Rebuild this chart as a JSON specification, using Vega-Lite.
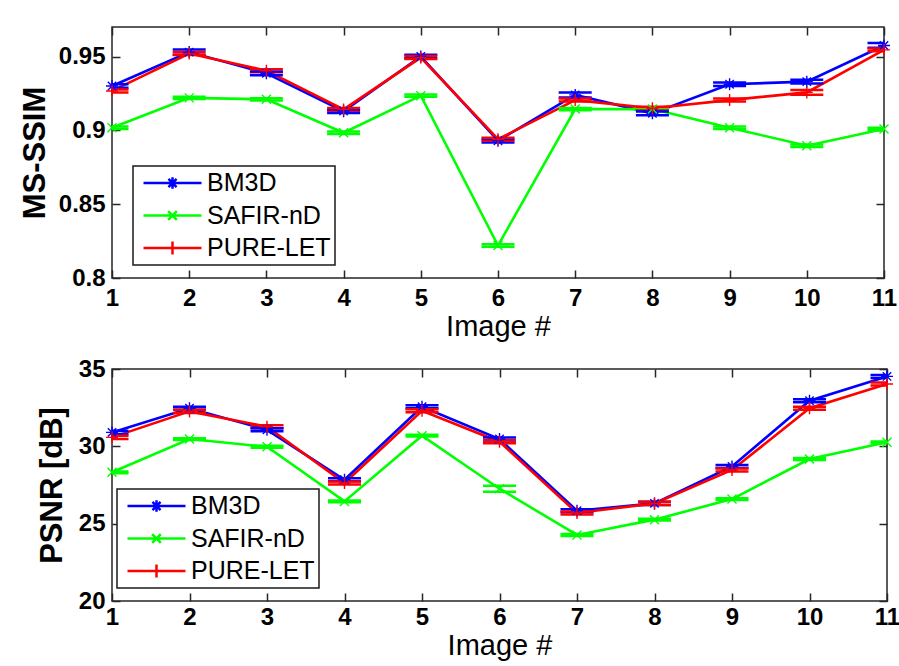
{
  "$schema": "https://vega.github.io/schema/vega-lite/v6.json",
  "background": "white",
  "padding": {"left": 18, "top": 25, "right": 0, "bottom": 0},
  "datasets": {
    "msssim": [
      {"img": 1, "method": "BM3D", "v": 0.930, "lo": 0.9288, "hi": 0.9312},
      {"img": 2, "method": "BM3D", "v": 0.953, "lo": 0.9512, "hi": 0.9548},
      {"img": 3, "method": "BM3D", "v": 0.9386, "lo": 0.9374, "hi": 0.9398},
      {"img": 4, "method": "BM3D", "v": 0.913, "lo": 0.9118, "hi": 0.9142},
      {"img": 5, "method": "BM3D", "v": 0.950, "lo": 0.9488, "hi": 0.9512},
      {"img": 6, "method": "BM3D", "v": 0.893, "lo": 0.8918, "hi": 0.8942},
      {"img": 7, "method": "BM3D", "v": 0.924, "lo": 0.9223, "hi": 0.9257},
      {"img": 8, "method": "BM3D", "v": 0.9115, "lo": 0.9103, "hi": 0.9127},
      {"img": 9, "method": "BM3D", "v": 0.9312, "lo": 0.9300, "hi": 0.9324},
      {"img": 10, "method": "BM3D", "v": 0.933, "lo": 0.9318, "hi": 0.9342},
      {"img": 11, "method": "BM3D", "v": 0.9575, "lo": 0.9559, "hi": 0.9591},
      {"img": 1, "method": "SAFIR-nD", "v": 0.9018, "lo": 0.9010, "hi": 0.9026},
      {"img": 2, "method": "SAFIR-nD", "v": 0.922, "lo": 0.9212, "hi": 0.9228},
      {"img": 3, "method": "SAFIR-nD", "v": 0.921, "lo": 0.9202, "hi": 0.9218},
      {"img": 4, "method": "SAFIR-nD", "v": 0.8984, "lo": 0.8976, "hi": 0.8992},
      {"img": 5, "method": "SAFIR-nD", "v": 0.9235, "lo": 0.9227, "hi": 0.9243},
      {"img": 6, "method": "SAFIR-nD", "v": 0.822, "lo": 0.8212, "hi": 0.8228},
      {"img": 7, "method": "SAFIR-nD", "v": 0.9144, "lo": 0.9136, "hi": 0.9152},
      {"img": 8, "method": "SAFIR-nD", "v": 0.9144, "lo": 0.9136, "hi": 0.9152},
      {"img": 9, "method": "SAFIR-nD", "v": 0.9018, "lo": 0.9010, "hi": 0.9026},
      {"img": 10, "method": "SAFIR-nD", "v": 0.8896, "lo": 0.8888, "hi": 0.8904},
      {"img": 11, "method": "SAFIR-nD", "v": 0.9009, "lo": 0.9001, "hi": 0.9017},
      {"img": 1, "method": "PURE-LET", "v": 0.9267, "lo": 0.9257, "hi": 0.9277},
      {"img": 2, "method": "PURE-LET", "v": 0.952, "lo": 0.9510, "hi": 0.9530},
      {"img": 3, "method": "PURE-LET", "v": 0.9404, "lo": 0.9394, "hi": 0.9414},
      {"img": 4, "method": "PURE-LET", "v": 0.9142, "lo": 0.9132, "hi": 0.9152},
      {"img": 5, "method": "PURE-LET", "v": 0.9493, "lo": 0.9483, "hi": 0.9503},
      {"img": 6, "method": "PURE-LET", "v": 0.894, "lo": 0.8930, "hi": 0.8950},
      {"img": 7, "method": "PURE-LET", "v": 0.9205, "lo": 0.9195, "hi": 0.9215},
      {"img": 8, "method": "PURE-LET", "v": 0.915, "lo": 0.9140, "hi": 0.9160},
      {"img": 9, "method": "PURE-LET", "v": 0.9205, "lo": 0.9195, "hi": 0.9215},
      {"img": 10, "method": "PURE-LET", "v": 0.9257, "lo": 0.9241, "hi": 0.9273},
      {"img": 11, "method": "PURE-LET", "v": 0.9545, "lo": 0.9535, "hi": 0.9555}
    ],
    "psnr": [
      {"img": 1, "method": "BM3D", "v": 30.9, "lo": 30.8, "hi": 31.0},
      {"img": 2, "method": "BM3D", "v": 32.46, "lo": 32.36, "hi": 32.56},
      {"img": 3, "method": "BM3D", "v": 31.07, "lo": 30.97, "hi": 31.17},
      {"img": 4, "method": "BM3D", "v": 27.84, "lo": 27.74, "hi": 27.94},
      {"img": 5, "method": "BM3D", "v": 32.56, "lo": 32.46, "hi": 32.66},
      {"img": 6, "method": "BM3D", "v": 30.47, "lo": 30.37, "hi": 30.57},
      {"img": 7, "method": "BM3D", "v": 25.84, "lo": 25.74, "hi": 25.94},
      {"img": 8, "method": "BM3D", "v": 26.31, "lo": 26.21, "hi": 26.41},
      {"img": 9, "method": "BM3D", "v": 28.7, "lo": 28.6, "hi": 28.8},
      {"img": 10, "method": "BM3D", "v": 32.95, "lo": 32.85, "hi": 33.05},
      {"img": 11, "method": "BM3D", "v": 34.52, "lo": 34.42, "hi": 34.62},
      {"img": 1, "method": "SAFIR-nD", "v": 28.32, "lo": 28.26, "hi": 28.38},
      {"img": 2, "method": "SAFIR-nD", "v": 30.47, "lo": 30.41, "hi": 30.53},
      {"img": 3, "method": "SAFIR-nD", "v": 29.97, "lo": 29.91, "hi": 30.03},
      {"img": 4, "method": "SAFIR-nD", "v": 26.44, "lo": 26.38, "hi": 26.50},
      {"img": 5, "method": "SAFIR-nD", "v": 30.69, "lo": 30.63, "hi": 30.75},
      {"img": 6, "method": "SAFIR-nD", "v": 27.26, "lo": 27.07, "hi": 27.45},
      {"img": 7, "method": "SAFIR-nD", "v": 24.27, "lo": 24.21, "hi": 24.33},
      {"img": 8, "method": "SAFIR-nD", "v": 25.26, "lo": 25.20, "hi": 25.32},
      {"img": 9, "method": "SAFIR-nD", "v": 26.59, "lo": 26.53, "hi": 26.65},
      {"img": 10, "method": "SAFIR-nD", "v": 29.18, "lo": 29.12, "hi": 29.24},
      {"img": 11, "method": "SAFIR-nD", "v": 30.26, "lo": 30.20, "hi": 30.32},
      {"img": 1, "method": "PURE-LET", "v": 30.58, "lo": 30.48, "hi": 30.68},
      {"img": 2, "method": "PURE-LET", "v": 32.26, "lo": 32.16, "hi": 32.36},
      {"img": 3, "method": "PURE-LET", "v": 31.27, "lo": 31.17, "hi": 31.37},
      {"img": 4, "method": "PURE-LET", "v": 27.63, "lo": 27.53, "hi": 27.73},
      {"img": 5, "method": "PURE-LET", "v": 32.3, "lo": 32.2, "hi": 32.4},
      {"img": 6, "method": "PURE-LET", "v": 30.3, "lo": 30.2, "hi": 30.4},
      {"img": 7, "method": "PURE-LET", "v": 25.69, "lo": 25.59, "hi": 25.79},
      {"img": 8, "method": "PURE-LET", "v": 26.31, "lo": 26.21, "hi": 26.41},
      {"img": 9, "method": "PURE-LET", "v": 28.47, "lo": 28.37, "hi": 28.57},
      {"img": 10, "method": "PURE-LET", "v": 32.46, "lo": 32.36, "hi": 32.56},
      {"img": 11, "method": "PURE-LET", "v": 34.03, "lo": 33.93, "hi": 34.13}
    ]
  },
  "vconcat": [
    {
      "width": 772,
      "height": 251,
      "data": {"name": "msssim"},
      "layer": [
        {
          "mark": {"type": "line", "strokeWidth": 2.6},
          "encoding": {
            "x": {"field": "img", "type": "quantitative", "scale": {"domain": [1, 11], "nice": false, "zero": false},
              "axis": {"orient": "bottom", "values": [1,2,3,4,5,6,7,8,9,10,11], "format": "d", "title": "Image #", "titleFontWeight": "normal", "titleFontSize": 29, "titlePadding": 2, "labelFontSize": 24, "labelFontWeight": "bold", "labelPadding": 16, "tickSize": -8, "domain": false, "grid": false, "labelFlush": false}},
            "y": {"field": "v", "type": "quantitative", "scale": {"domain": [0.8, 0.97], "nice": false, "zero": false},
              "axis": {"orient": "left", "values": [0.8, 0.85, 0.9, 0.95], "format": "~g", "title": "MS-SSIM", "titleFontSize": 31, "titleFontWeight": "bold", "titlePadding": 7, "labelFontSize": 24, "labelFontWeight": "bold", "labelPadding": 15, "tickSize": -8, "domain": false, "grid": false, "labelFlush": false}},
            "color": {"field": "method", "type": "nominal",
              "scale": {"domain": ["BM3D", "SAFIR-nD", "PURE-LET"], "range": ["#0000ff", "#00ff00", "#ff0000"]},
              "legend": {"title": null, "orient": "none", "legendX": 21, "legendY": 139, "direction": "vertical", "padding": 4, "strokeColor": "#1a1a1a", "fillColor": "#ffffff", "symbolSize": 3364, "clipHeight": 26, "rowPadding": 6.5, "symbolOffset": 5, "labelOffset": 4, "labelFont": "Liberation Sans", "labelFontSize": 25, "labelColor": "#000000", "symbolStrokeWidth": 2.5,
                "encode": {"symbols": {"update": {
                  "shape": {"signal": "datum.value === 'BM3D' ? 'M-1,0H1M0,-0.2V0.2M-0.14,-0.14L0.14,0.14M-0.14,0.14L0.14,-0.14' : datum.value === 'SAFIR-nD' ? 'M-1,0H1M-0.15,-0.15L0.15,0.15M-0.15,0.15L0.15,-0.15' : 'M-1,0H1M0,-0.22V0.22'"},
                  "stroke": {"signal": "datum.value === 'BM3D' ? '#0000ff' : datum.value === 'SAFIR-nD' ? '#00ff00' : '#ff0000'"},
                  "fill": {"value": "transparent"},
                  "opacity": {"value": 1},
                  "strokeWidth": {"value": 2.5},
                  "size": {"value": 3364}
                }}}}}
          }
        },
        {
          "mark": {"type": "tick", "orient": "horizontal", "size": 33, "thickness": 2.5, "clip": true, "opacity": 1},
          "encoding": {
            "x": {"field": "img", "type": "quantitative", "scale": {"domain": [1, 11], "nice": false, "zero": false}, "axis": null},
            "y": {"field": "lo", "type": "quantitative", "scale": {"domain": [0.8, 0.97], "nice": false, "zero": false}, "axis": null},
            "color": {"field": "method", "type": "nominal"}
          }
        },
        {
          "mark": {"type": "tick", "orient": "horizontal", "size": 33, "thickness": 2.5, "clip": true, "opacity": 1},
          "encoding": {
            "x": {"field": "img", "type": "quantitative", "scale": {"domain": [1, 11], "nice": false, "zero": false}, "axis": null},
            "y": {"field": "hi", "type": "quantitative", "scale": {"domain": [0.8, 0.97], "nice": false, "zero": false}, "axis": null},
            "color": {"field": "method", "type": "nominal"}
          }
        },
        {
          "transform": [{"filter": "datum.method === 'BM3D'"}],
          "mark": {"type": "point", "filled": false, "size": 144, "strokeWidth": 1.4, "opacity": 1, "shape": "M-1,0H1M0,-1V1M-0.7,-0.7L0.7,0.7M-0.7,0.7L0.7,-0.7"},
          "encoding": {
            "x": {"field": "img", "type": "quantitative", "scale": {"domain": [1, 11], "nice": false, "zero": false}, "axis": null},
            "y": {"field": "v", "type": "quantitative", "scale": {"domain": [0.8, 0.97], "nice": false, "zero": false}, "axis": null},
            "color": {"field": "method", "type": "nominal"}
          }
        },
        {
          "transform": [{"filter": "datum.method === 'SAFIR-nD'"}],
          "mark": {"type": "point", "filled": false, "size": 144, "strokeWidth": 1.4, "opacity": 1, "shape": "M-0.75,-0.75L0.75,0.75M-0.75,0.75L0.75,-0.75"},
          "encoding": {
            "x": {"field": "img", "type": "quantitative", "scale": {"domain": [1, 11], "nice": false, "zero": false}, "axis": null},
            "y": {"field": "v", "type": "quantitative", "scale": {"domain": [0.8, 0.97], "nice": false, "zero": false}, "axis": null},
            "color": {"field": "method", "type": "nominal"}
          }
        },
        {
          "transform": [{"filter": "datum.method === 'PURE-LET'"}],
          "mark": {"type": "point", "filled": false, "size": 144, "strokeWidth": 1.4, "opacity": 1, "shape": "M-1,0H1M0,-1V1"},
          "encoding": {
            "x": {"field": "img", "type": "quantitative", "scale": {"domain": [1, 11], "nice": false, "zero": false}, "axis": null},
            "y": {"field": "v", "type": "quantitative", "scale": {"domain": [0.8, 0.97], "nice": false, "zero": false}, "axis": null},
            "color": {"field": "method", "type": "nominal"}
          }
        },
        {
          "mark": {"type": "point", "opacity": 0},
          "encoding": {
            "x": {"field": "img", "type": "quantitative", "scale": {"domain": [1, 11], "nice": false, "zero": false},
              "axis": {"orient": "top", "values": [1,2,3,4,5,6,7,8,9,10,11], "labels": false, "title": null, "tickSize": -8, "domain": false, "grid": false}},
            "y": {"field": "v", "type": "quantitative", "scale": {"domain": [0.8, 0.97], "nice": false, "zero": false},
              "axis": {"orient": "right", "values": [0.8, 0.85, 0.9, 0.95], "labels": false, "title": null, "tickSize": -8, "domain": false, "grid": false}}
          }
        }
      ],
      "resolve": {"axis": {"x": "independent", "y": "independent"}}
    },
    {
      "width": 775,
      "height": 232,
      "data": {"name": "psnr"},
      "layer": [
        {
          "mark": {"type": "line", "strokeWidth": 2.6},
          "encoding": {
            "x": {"field": "img", "type": "quantitative", "scale": {"domain": [1, 11], "nice": false, "zero": false},
              "axis": {"orient": "bottom", "values": [1,2,3,4,5,6,7,8,9,10,11], "format": "d", "title": "Image #", "titleFontWeight": "normal", "titleFontSize": 29, "titlePadding": 2, "labelFontSize": 24, "labelFontWeight": "bold", "labelPadding": 12, "tickSize": -8, "domain": false, "grid": false, "labelFlush": false}},
            "y": {"field": "v", "type": "quantitative", "scale": {"domain": [20, 35], "nice": false, "zero": false},
              "axis": {"orient": "left", "values": [20, 25, 30, 35], "format": "d", "title": "PSNR  [dB]", "titleFontSize": 31, "titleFontWeight": "bold", "titlePadding": 10, "labelFontSize": 24, "labelFontWeight": "bold", "labelPadding": 15, "tickSize": -8, "domain": false, "grid": false, "labelFlush": false}},
            "color": {"field": "method", "type": "nominal",
              "scale": {"domain": ["BM3D", "SAFIR-nD", "PURE-LET"], "range": ["#0000ff", "#00ff00", "#ff0000"]},
              "legend": {"title": null, "orient": "none", "legendX": 5, "legendY": 120, "direction": "vertical", "padding": 4, "strokeColor": "#1a1a1a", "fillColor": "#ffffff", "symbolSize": 3364, "clipHeight": 26, "rowPadding": 6.5, "symbolOffset": 5, "labelOffset": 4, "labelFont": "Liberation Sans", "labelFontSize": 25, "labelColor": "#000000", "symbolStrokeWidth": 2.5,
                "encode": {"symbols": {"update": {
                  "shape": {"signal": "datum.value === 'BM3D' ? 'M-1,0H1M0,-0.2V0.2M-0.14,-0.14L0.14,0.14M-0.14,0.14L0.14,-0.14' : datum.value === 'SAFIR-nD' ? 'M-1,0H1M-0.15,-0.15L0.15,0.15M-0.15,0.15L0.15,-0.15' : 'M-1,0H1M0,-0.22V0.22'"},
                  "stroke": {"signal": "datum.value === 'BM3D' ? '#0000ff' : datum.value === 'SAFIR-nD' ? '#00ff00' : '#ff0000'"},
                  "fill": {"value": "transparent"},
                  "opacity": {"value": 1},
                  "strokeWidth": {"value": 2.5},
                  "size": {"value": 3364}
                }}}}}
          }
        },
        {
          "mark": {"type": "tick", "orient": "horizontal", "size": 33, "thickness": 2.5, "clip": true, "opacity": 1},
          "encoding": {
            "x": {"field": "img", "type": "quantitative", "scale": {"domain": [1, 11], "nice": false, "zero": false}, "axis": null},
            "y": {"field": "lo", "type": "quantitative", "scale": {"domain": [20, 35], "nice": false, "zero": false}, "axis": null},
            "color": {"field": "method", "type": "nominal"}
          }
        },
        {
          "mark": {"type": "tick", "orient": "horizontal", "size": 33, "thickness": 2.5, "clip": true, "opacity": 1},
          "encoding": {
            "x": {"field": "img", "type": "quantitative", "scale": {"domain": [1, 11], "nice": false, "zero": false}, "axis": null},
            "y": {"field": "hi", "type": "quantitative", "scale": {"domain": [20, 35], "nice": false, "zero": false}, "axis": null},
            "color": {"field": "method", "type": "nominal"}
          }
        },
        {
          "transform": [{"filter": "datum.method === 'BM3D'"}],
          "mark": {"type": "point", "filled": false, "size": 144, "strokeWidth": 1.4, "opacity": 1, "shape": "M-1,0H1M0,-1V1M-0.7,-0.7L0.7,0.7M-0.7,0.7L0.7,-0.7"},
          "encoding": {
            "x": {"field": "img", "type": "quantitative", "scale": {"domain": [1, 11], "nice": false, "zero": false}, "axis": null},
            "y": {"field": "v", "type": "quantitative", "scale": {"domain": [20, 35], "nice": false, "zero": false}, "axis": null},
            "color": {"field": "method", "type": "nominal"}
          }
        },
        {
          "transform": [{"filter": "datum.method === 'SAFIR-nD'"}],
          "mark": {"type": "point", "filled": false, "size": 144, "strokeWidth": 1.4, "opacity": 1, "shape": "M-0.75,-0.75L0.75,0.75M-0.75,0.75L0.75,-0.75"},
          "encoding": {
            "x": {"field": "img", "type": "quantitative", "scale": {"domain": [1, 11], "nice": false, "zero": false}, "axis": null},
            "y": {"field": "v", "type": "quantitative", "scale": {"domain": [20, 35], "nice": false, "zero": false}, "axis": null},
            "color": {"field": "method", "type": "nominal"}
          }
        },
        {
          "transform": [{"filter": "datum.method === 'PURE-LET'"}],
          "mark": {"type": "point", "filled": false, "size": 144, "strokeWidth": 1.4, "opacity": 1, "shape": "M-1,0H1M0,-1V1"},
          "encoding": {
            "x": {"field": "img", "type": "quantitative", "scale": {"domain": [1, 11], "nice": false, "zero": false}, "axis": null},
            "y": {"field": "v", "type": "quantitative", "scale": {"domain": [20, 35], "nice": false, "zero": false}, "axis": null},
            "color": {"field": "method", "type": "nominal"}
          }
        },
        {
          "mark": {"type": "point", "opacity": 0},
          "encoding": {
            "x": {"field": "img", "type": "quantitative", "scale": {"domain": [1, 11], "nice": false, "zero": false},
              "axis": {"orient": "top", "values": [1,2,3,4,5,6,7,8,9,10,11], "labels": false, "title": null, "tickSize": -8, "domain": false, "grid": false}},
            "y": {"field": "v", "type": "quantitative", "scale": {"domain": [20, 35], "nice": false, "zero": false},
              "axis": {"orient": "right", "values": [20, 25, 30, 35], "labels": false, "title": null, "tickSize": -8, "domain": false, "grid": false}}
          }
        }
      ],
      "resolve": {"axis": {"x": "independent", "y": "independent"}}
    }
  ],
  "spacing": 14,
  "resolve": {"scale": {"color": "independent"}},
  "config": {
    "view": {"stroke": "#262626", "strokeWidth": 1.5},
    "axis": {"labelFont": "Liberation Sans", "titleFont": "Liberation Sans", "labelColor": "#000000", "titleColor": "#000000", "tickColor": "#262626", "tickWidth": 1.5},
    "legend": {"strokeWidth": 1.5}
  }
}
